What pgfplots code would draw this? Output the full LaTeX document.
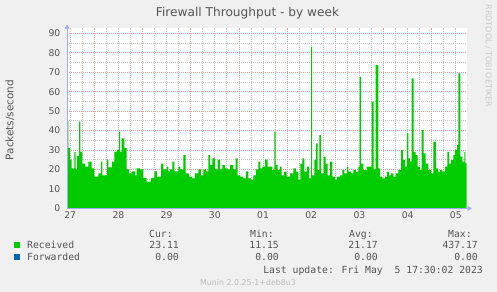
\documentclass[border=0pt]{standalone}
\usepackage{pgfplots}
\pgfplotsset{compat=1.18}
\usepackage{fontspec}
\setmainfont{DejaVu Sans}
\newfontfamily\mono{DejaVu Sans Mono}
\usetikzlibrary{arrows.meta}
\definecolor{bg}{HTML}{F0F0F0}
\definecolor{recv}{HTML}{00CC00}
\definecolor{fwd}{HTML}{0066B3}
\definecolor{gridred}{HTML}{F2A0A0}
\definecolor{gridgray}{HTML}{C8C8C8}
\definecolor{axiscol}{HTML}{A0AAF0}
\definecolor{textgray}{HTML}{555555}
\definecolor{faint}{HTML}{BBBBBB}
\pgfplotstableread{
h v
10.4 45
11.07 31
11.9 25
12.7 20.5
14.06 29
14.7 20
15.4 27
16.4 44.6
17.05 29
18.0 23
19.4 21.4
21.0 24
22.7 20.5
24.0 16.3
26.0 18
27.3 24
28.0 17
30.2 25
31.0 21
32.7 24
34.0 29
35.1 30
36.3 39.5
36.8 29
37.6 36
39.0 31
40.1 20
41.3 18
42.6 19
44.3 17
45.1 20.5
46.8 20
48.4 15.5
50.1 13.7
52.2 15.5
53.9 19
55.1 16.3
57.2 23
58.4 20
60.0 21.4
60.9 19
61.7 20
62.9 24
63.8 19
65.8 21.4
66.8 20
68.3 27.4
69.5 18
71.2 16.3
72.8 15.4
74.1 18
75.8 20
77.1 17
78.3 20
79.5 19
80.8 27.4
81.6 22.3
82.8 25.7
84.1 20
85.4 25
86.6 20
87.8 22.3
89.1 20.6
90.4 20
91.6 22.3
93.2 20
94.4 25.7
95.4 17
96.6 16.3
98.2 15.4
99.5 19
100.7 15.4
102.0 14.6
103.2 17
104.4 20
105.7 24
106.7 20.6
107.7 21.4
109.0 25
110.3 21.4
112.7 19.7
113.6 39.4
114.3 22.3
115.3 19.7
116.5 21.4
117.3 17
118.5 18.9
119.8 16.3
121.5 18
123.1 20.6
124.3 18.9
125.6 14.6
126.6 23
127.6 25.7
128.6 18.9
129.8 21.4
130.9 15.4
131.9 83
132.4 17
133.6 24.9
134.4 33.4
135.2 19.7
136.1 37.7
136.9 18
138.2 26.6
139.2 23
140.2 17
141.4 24
142.5 16.3
143.9 14.6
144.7 16.3
146.4 17
147.5 19.7
148.5 18
149.7 21.4
150.5 18.9
151.8 18
153.0 19.7
154.2 18.9
155.5 21.4
156.1 67.7
156.8 23
158.0 19.7
159.6 21.4
161.3 21.4
162.1 54.9
163.0 20
164.1 73.7
165.4 20.6
166.3 16.3
167.4 15.4
168.8 16.3
169.8 18.9
170.8 17
171.7 18
172.9 16.3
174.1 18
175.4 19.7
176.7 30
177.6 24.9
178.7 21.4
179.6 38.6
180.4 25.7
181.2 24
182.0 66.9
183.0 29
184.0 27.4
185.0 21.4
186.2 19.7
187.0 40.3
188.0 28.3
189.0 23
190.3 19.7
191.7 18
192.8 34.3
194.0 20.6
195.0 18.9
196.2 19.7
197.3 18.9
198.6 21.4
199.8 29
200.6 23
201.6 24.9
202.8 27.4
203.6 30
204.6 32.6
205.3 69.4
206.3 26.6
207.3 24
208.3 29
208.8 23.11
209.3 23.11
}\recvdata
\begin{document}
\begin{tikzpicture}
\fill[bg] (0,0) rectangle (497bp,292bp);
\begin{axis}[
  at={(67bp,83.7bp)}, anchor=south west,
  scale only axis, width=399.5bp, height=180.2bp,
  xmin=10.4, xmax=209.3, ymin=0, ymax=92.7,
  clip=false,
  axis line style={draw=none},
  axis background/.style={fill=white},
  xtick={24,48,...,192}, xticklabels={},
  minor xtick={12,18,30,36,42,54,60,66,78,84,90,102,108,114,126,132,138,150,156,162,174,180,186,198,204},
  extra x ticks={12,36,60,84,108,132,156,180,204},
  extra x tick labels={27,28,29,30,01,02,03,04,05},
  extra x tick style={grid=none},
  ytick={0,10,...,90}, minor ytick={5,15,...,85},
  grid=both,
  major grid style={draw=gridred, dash pattern=on 1bp off 1bp, line width=0.8bp},
  minor grid style={draw=gridgray, dash pattern=on 1bp off 1bp, line width=0.8bp},
  major tick length=0pt, minor tick length=0pt,
  ticklabel style={font=\fontsize{9.3}{9.3}\selectfont, text=textgray, inner sep=0pt},
  yticklabel style={xshift=-6.5bp},
  xticklabel style={yshift=-3bp},
  /pgf/number format/assume math mode=true,
]
\addplot[const plot, fill=recv, draw=none] table[x=h, y=v] {\recvdata} \closedcycle;
\draw[axiscol, line width=1bp, -{Triangle[width=5bp,length=4bp]}] (axis cs:10.4,0) -- (axis cs:211.9,0);
\draw[axiscol, line width=1bp, -{Triangle[width=5bp,length=4bp]}] (axis cs:10.4,0) -- (axis cs:10.4,94.5);
\end{axis}
% titles
\node[text=textgray, font=\fontsize{12.2}{12.2}\selectfont, inner sep=0pt] at (247.5bp,279bp) {Firewall Throughput - by week};
\node[text=textgray, font=\fontsize{10.5}{10.5}\selectfont, inner sep=0pt, rotate=90] at (10bp,172bp) {Packets/second};
\node[text=faint!80!white, font=\fontsize{8}{8}\selectfont, inner sep=0pt, rotate=-90] at (488.5bp,236bp) {RRDTOOL / TOBI OETIKER};
% legend
\fill[recv] (14bp,44bp) rectangle (20bp,50bp);
\fill[fwd] (14bp,32bp) rectangle (20bp,38bp);
\begin{scope}[every node/.style={inner sep=0pt, text=textgray, font=\mono\fontsize{9.8}{9.8}\selectfont}]
\node[anchor=base west] at (27bp,43.5bp) {Received};
\node[anchor=base west] at (27bp,31.5bp) {Forwarded};
\node[anchor=base west] at (149bp,54.5bp) {Cur:};
\node[anchor=base west] at (250bp,54.5bp) {Min:};
\node[anchor=base west] at (349bp,54.5bp) {Avg:};
\node[anchor=base west] at (448bp,54.5bp) {Max:};
\node[anchor=base east] at (179bp,43.5bp) {23.11};
\node[anchor=base east] at (279bp,43.5bp) {11.15};
\node[anchor=base east] at (378bp,43.5bp) {21.17};
\node[anchor=base east] at (478bp,43.5bp) {437.17};
\node[anchor=base east] at (179bp,31.5bp) {0.00};
\node[anchor=base east] at (279bp,31.5bp) {0.00};
\node[anchor=base east] at (378bp,31.5bp) {0.00};
\node[anchor=base east] at (478bp,31.5bp) {0.00};
\node[anchor=base east] at (483bp,18.5bp) {Last update: Fri May\ \ 5 17:30:02 2023};
\end{scope}
\node[anchor=base, inner sep=0pt, text=faint, font=\fontsize{7.9}{7.9}\selectfont] at (248bp,7bp) {Munin 2.0.25-1+deb8u3};
\pgfresetboundingbox
\path[use as bounding box] (0,0) rectangle (497bp,292bp);
\end{tikzpicture}
\end{document}
